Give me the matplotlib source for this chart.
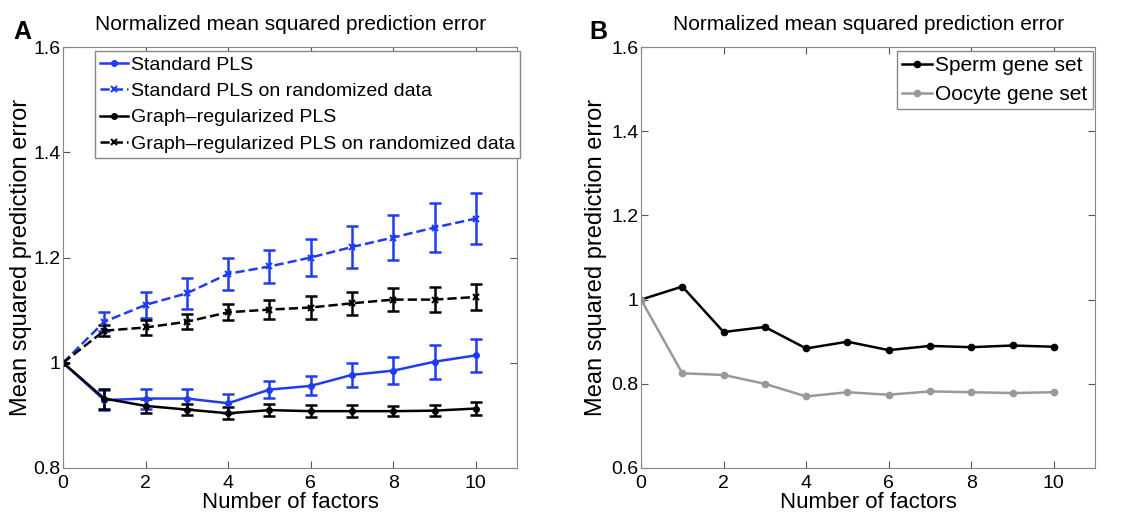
import numpy as np
import matplotlib
matplotlib.use("Agg")
import matplotlib.pyplot as plt

plt.rcParams['font.family'] = ['Liberation Sans', 'DejaVu Sans']

# Datos panel A
factors = np.arange(0, 11)
std_pls = [1.0, 0.929, 0.932, 0.932, 0.923, 0.949, 0.956, 0.977, 0.985, 1.002, 1.014]
std_pls_err = [0.0, 0.019, 0.019, 0.019, 0.018, 0.016, 0.018, 0.023, 0.025, 0.032, 0.031]
std_rand = [1.0, 1.078, 1.110, 1.132, 1.169, 1.183, 1.200, 1.220, 1.238, 1.257, 1.274]
std_rand_err = [0.0, 0.018, 0.025, 0.030, 0.031, 0.032, 0.036, 0.039, 0.043, 0.046, 0.048]
graph_pls = [1.0, 0.932, 0.918, 0.911, 0.904, 0.910, 0.908, 0.908, 0.908, 0.909, 0.913]
graph_pls_err = [0.0, 0.019, 0.014, 0.011, 0.011, 0.011, 0.011, 0.011, 0.010, 0.010, 0.012]
graph_rand = [1.0, 1.061, 1.067, 1.078, 1.096, 1.101, 1.105, 1.113, 1.120, 1.120, 1.125]
graph_rand_err = [0.0, 0.010, 0.014, 0.014, 0.015, 0.018, 0.022, 0.022, 0.022, 0.024, 0.024]

# Datos panel B
sperm = [1.0, 1.031, 0.923, 0.935, 0.884, 0.900, 0.880, 0.890, 0.887, 0.891, 0.888]
oocyte = [1.0, 0.825, 0.821, 0.800, 0.770, 0.780, 0.774, 0.782, 0.780, 0.778, 0.780]

blue = '#1f3cf0'
fs = 14

fig = plt.figure(figsize=(11.38, 5.14), dpi=100)
ax1 = fig.add_axes([0.0554, 0.0895, 0.399, 0.819])
ax2 = fig.add_axes([0.5633, 0.0895, 0.399, 0.819])

# Barras de error (sin etiqueta) + lineas para la leyenda
eb = dict(fmt='none', capsize=4, elinewidth=1.8, capthick=1.8)
ax1.errorbar(factors, std_pls, yerr=std_pls_err, ecolor=blue, **eb)
ax1.errorbar(factors, std_rand, yerr=std_rand_err, ecolor=blue, **eb)
ax1.errorbar(factors, graph_pls, yerr=graph_pls_err, ecolor='k', **eb)
ax1.errorbar(factors, graph_rand, yerr=graph_rand_err, ecolor='k', **eb)

ax1.plot(factors, std_pls, color=blue, marker='.', ms=8, lw=1.8, label='Standard PLS')
ax1.plot(factors, std_rand, color=blue, marker='x', ms=4, mew=1.5, lw=1.8, ls='--',
         label='Standard PLS on randomized data')
ax1.plot(factors, graph_pls, color='k', marker='.', ms=8, lw=1.8,
         label='Graph\u2013regularized PLS')
ax1.plot(factors, graph_rand, color='k', marker='x', ms=4, mew=1.5, lw=1.8, ls='--',
         label='Graph\u2013regularized PLS on randomized data')

ax2.plot(factors, sperm, color='k', marker='.', ms=9, lw=1.8, label='Sperm gene set')
ax2.plot(factors, oocyte, color='#999999', marker='.', ms=9, lw=1.8, label='Oocyte gene set')

def style(ax, ylo, lab_x):
    ax.set_xlim(0, 11)
    ax.set_ylim(ylo, 1.6)
    ax.set_xticks([0, 2, 4, 6, 8, 10])
    yt = np.round(np.arange(ylo, 1.61, 0.2), 1)
    ax.set_yticks(yt)
    ax.set_yticklabels(['1' if v == 1.0 else f'{v:g}' for v in yt])
    ax.tick_params(direction='in', top=True, right=True, labelsize=fs, length=5,
                   color='#555555')
    ax.tick_params(axis='x', pad=5)
    ax.tick_params(axis='y', pad=2)
    for s in ax.spines.values():
        s.set_color('#888888')
    ax.set_xlabel('Number of factors', fontsize=16, labelpad=0)
    ax.set_ylabel('Mean squared prediction error', fontsize=17)
    ax.yaxis.set_label_coords(lab_x, 0.5)
    ax.set_title('Normalized mean squared prediction error', fontsize=15, pad=12)

style(ax1, 0.8, -0.068)
style(ax2, 0.6, -0.075)

leg1 = ax1.legend(loc='upper left', bbox_to_anchor=(0.07, 0.99), fontsize=fs,
                  fancybox=False, edgecolor='#888888', framealpha=1,
                  handlelength=1.45, handletextpad=0.15, borderpad=0.25, labelspacing=0.45,
                  borderaxespad=0)
leg2 = ax2.legend(loc='upper right', bbox_to_anchor=(0.995, 0.99), fontsize=fs + 1,
                  fancybox=False, edgecolor='#888888', framealpha=1,
                  handlelength=1.45, handletextpad=0.15, borderpad=0.25, labelspacing=0.45,
                  borderaxespad=0)

fig.text(0.012, 0.925, 'A', fontsize=18, fontweight='bold')
fig.text(0.518, 0.925, 'B', fontsize=18, fontweight='bold')

fig.savefig('out.png', dpi=100)
